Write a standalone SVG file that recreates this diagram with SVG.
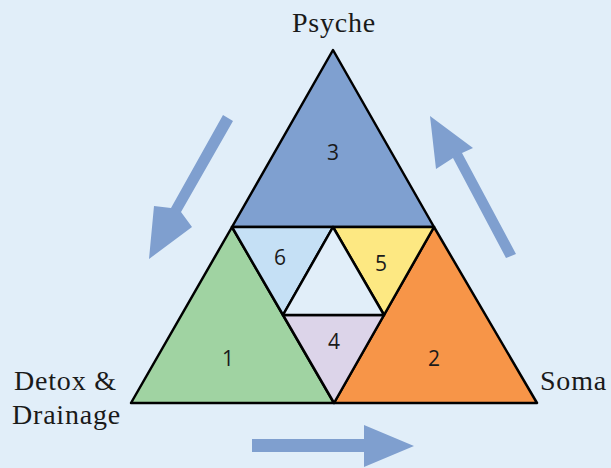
<svg xmlns="http://www.w3.org/2000/svg" width="611" height="468" viewBox="0 0 611 468">
<style>
.t{stroke:#000;stroke-width:2.5;stroke-linejoin:round}
.n{font-family:"Open Sans","Liberation Sans",sans-serif;font-size:21px;fill:#1a1a1a;text-anchor:middle}
.l{font-family:"Liberation Serif",serif;font-size:28px;fill:#1a1a1a;letter-spacing:0.8px}
.a{fill:#7f9fcf}
</style>
<rect width="611" height="468" fill="#e1eef9"/>
<g id="connectors">
<polygon class="a" points="223,115 233,121 181,212 192,227 149,259 154,206 171,208"/>
<polygon class="a" points="516,254 506,258 453,158 436,169 430,116 473,148 462,153"/>
<polygon class="a" points="252,439 364,439 364,425 414,446 364,467 364,452 252,452"/>
</g>
<g id="n3"><polygon class="t" fill="#7fa0d0" points="333,50 434,227 232,227"/><text class="n" x="333" y="160">3</text></g>
<g id="n1"><polygon class="t" fill="#a0d3a2" points="232,227 334,403 131,403"/><text class="n" x="228" y="366">1</text></g>
<g id="n2"><polygon class="t" fill="#f79548" points="434,227 537,403 334,403"/><text class="n" x="434" y="366">2</text></g>
<g id="n6"><polygon class="t" fill="#c5e0f5" points="232,227 333,227 283,315"/><text class="n" x="280" y="265">6</text></g>
<g id="n5"><polygon class="t" fill="#fde882" points="333,227 434,227 384,315"/><text class="n" x="381" y="271">5</text></g>
<g id="n4"><polygon class="t" fill="#dcd4e9" points="283,315 384,315 334,403"/><text class="n" x="334" y="349">4</text></g>
<g id="center"><polygon class="t" fill="#e1eef9" points="333,227 384,315 283,315"/></g>
<g id="psyche"><text class="l" x="334" y="32" text-anchor="middle">Psyche</text></g>
<g id="detox"><text class="l" x="14" y="390">Detox &amp;</text><text class="l" x="12" y="424">Drainage</text></g>
<g id="soma"><text class="l" x="540" y="390">Soma</text></g>
</svg>
